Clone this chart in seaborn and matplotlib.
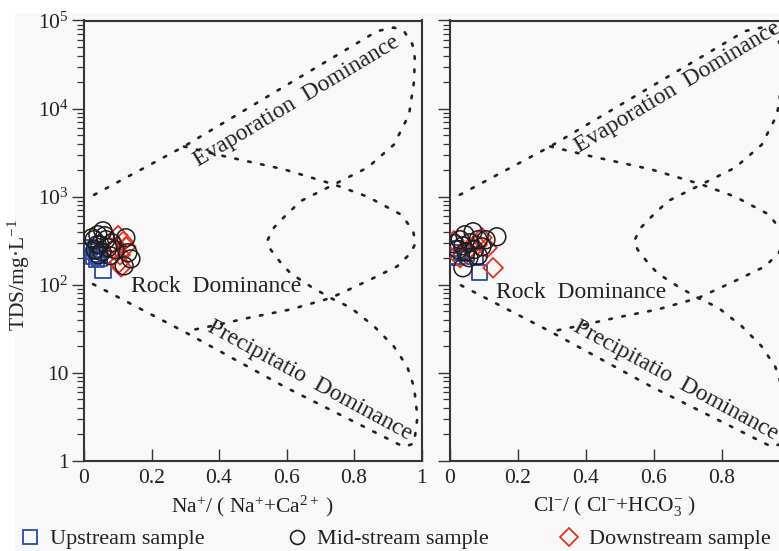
import numpy as np
import pandas as pd
import seaborn as sns
import matplotlib
matplotlib.use("Agg")
import matplotlib.pyplot as plt
from matplotlib.lines import Line2D
from matplotlib.patches import Rectangle

# ---------------- data ----------------
# Left panel: Na+/(Na+ + Ca2+)
up_na = [0.015, 0.024, 0.033, 0.041, 0.027, 0.047, 0.036, 0.056]
up_na_tds = [263, 237, 251, 219, 209, 197, 192, 144]
mid_na = [0.030, 0.041, 0.056, 0.047, 0.065, 0.033, 0.053, 0.071, 0.083, 0.039,
          0.062, 0.077, 0.092, 0.130, 0.119, 0.139, 0.024, 0.044, 0.124]
mid_na_tds = [325, 370, 410, 285, 325, 250, 237, 263, 300, 285,
              360, 214, 250, 231, 164, 197, 342, 219, 342]
down_na = [0.101, 0.098, 0.107, 0.104, 0.116, 0.089, 0.124, 0.110]
down_na_tds = [361, 270, 219, 178, 309, 251, 270, 160]

# Right panel: Cl-/(Cl- + HCO3-)
up_cl = [0.010, 0.022, 0.007, 0.034, 0.075, 0.089, 0.048]
up_cl_tds = [256, 209, 203, 231, 209, 137, 225]
mid_cl = [0.031, 0.045, 0.069, 0.060, 0.084, 0.025, 0.048, 0.072, 0.095, 0.039,
          0.107, 0.057, 0.084, 0.139, 0.039, 0.013]
mid_cl_tds = [325, 370, 400, 300, 325, 251, 237, 251, 270, 277,
              325, 203, 214, 351, 156, 292]
down_cl = [0.013, 0.095, 0.128, 0.110, 0.060, 0.031, 0.081]
down_cl_tds = [316, 342, 156, 263, 263, 203, 285]

# Gibbs boundary curves
outer_x = [0.03, 0.296, 0.593, 0.869, 0.918, 0.948, 0.973, 0.980, 0.978, 0.963,
           0.918, 0.84, 0.741, 0.642, 0.593, 0.563, 0.543, 0.553, 0.583, 0.612,
           0.672, 0.731, 0.79, 0.859, 0.918, 0.958, 0.978, 0.988, 0.978, 0.948,
           0.938, 0.79, 0.593, 0.296, 0.01]
outer_tds = [1050, 3715, 17780, 75860, 83180, 75860, 53700, 38000, 20420, 8511,
             3890, 2138, 1380, 891, 589, 447, 316, 251, 178, 135,
             95.5, 70.8, 55.0, 33.9, 20.0, 11.7, 6.9, 3.16, 1.58, 1.45,
             1.51, 2.92, 7.0, 29.5, 110]
inner_x = [0.296, 0.415, 0.593, 0.74, 0.84, 0.938, 0.975, 0.982, 0.968, 0.928,
           0.849, 0.731, 0.612, 0.494, 0.40, 0.30]
inner_tds = [3715, 2884, 2042, 1380, 1000, 631, 417, 295, 229, 162,
             115, 70.8, 52.5, 42.7, 35.5, 29.5]

yticks = [1, 10, 100, 1000, 10000, 100000]
ytick_labels = ["1", "10", "$10^{2}$", "$10^{3}$", "$10^{4}$", "$10^{5}$"]
xticks = [0, 0.2, 0.4, 0.6, 0.8, 1.0]
xtick_labels_left = ["0", "0.2", "0.4", "0.6", "0.8", "1"]
xtick_labels_right = ["0", "0.2", "0.4", "0.6", "0.8", ""]

C_UP = "#2b4aa6"
C_MID = "#1e1e1e"
C_DOWN = "#e8341f"
C_TXT = "#222222"
C_SPINE = "#3a3333"
BG = "#f8f8f8"
FS = 15.5
FS_ZONE = 17

# ---------------- style ----------------
sns.set_style("ticks")
plt.rcParams["font.family"] = ["Liberation Serif", "DejaVu Serif"]
plt.rcParams["mathtext.fontset"] = "custom"
plt.rcParams["mathtext.rm"] = "Liberation Serif"
plt.rcParams["mathtext.it"] = "Liberation Serif:italic"
plt.rcParams["mathtext.default"] = "regular"

W, H = 779, 551
fig = plt.figure(figsize=(W / 100, H / 100), dpi=100)
fig.patch.set_facecolor("white")
fig.add_artist(Rectangle((15 / W, 0), 1, (H - 13) / H, transform=fig.transFigure,
                         facecolor=BG, edgecolor="none", zorder=-10))

bottom = (H - 461) / H
height = 440.5 / H
ax1 = fig.add_axes([84 / W, bottom, 337.5 / W, height])
ax2 = fig.add_axes([449.6 / W, bottom, 340 / W, height])


def style_axis(ax, show_ylabels, xlabels):
    ax.set_facecolor(BG)
    ax.set_yscale("log")
    ax.set_xlim(0, 1)
    ax.set_ylim(1, 1e5)
    for s in ax.spines.values():
        s.set_color(C_SPINE)
        s.set_linewidth(1.5)
        s.set_visible(True)
    ax.set_xticks(xticks)
    ax.set_xticklabels(xlabels, fontsize=FS, color=C_TXT)
    ax.set_yticks(yticks)
    if show_ylabels:
        ax.set_yticklabels(ytick_labels, fontsize=FS, color=C_TXT)
    else:
        ax.set_yticklabels([])
    ax.yaxis.set_minor_locator(matplotlib.ticker.LogLocator(base=10, subs=np.arange(2, 10)))
    ax.yaxis.set_minor_formatter(matplotlib.ticker.NullFormatter())
    ax.tick_params(axis="x", which="major", direction="in", length=9, width=1.0,
                   color=C_SPINE, pad=6, bottom=True, top=False)
    ax.tick_params(axis="x", which="minor", bottom=False, top=False)
    ax.tick_params(axis="y", which="major", direction="out", length=9, width=1.0,
                   color=C_SPINE, pad=2, left=True, right=False)
    ax.tick_params(axis="y", which="minor", direction="out", length=5, width=0.9,
                   color=C_SPINE, left=True, right=False)


def draw_panel(ax, up_x, up_y, mid_x, mid_y, down_x, down_y):
    dot = (0, (1.0, 4.0))
    sns.lineplot(x=outer_x, y=outer_tds, sort=False, estimator=None, ax=ax,
                 color=C_TXT, linewidth=1.9, linestyle=dot, dash_capstyle="round")
    sns.lineplot(x=inner_x, y=inner_tds, sort=False, estimator=None, ax=ax,
                 color=C_TXT, linewidth=1.9, linestyle=dot, dash_capstyle="round")
    sns.scatterplot(x=up_x, y=up_y, ax=ax, marker="s", s=120, fc="none",
                    ec=C_UP, linewidth=1.3, zorder=3)
    sns.scatterplot(x=mid_x, y=mid_y, ax=ax, marker="o", s=165, fc="none",
                    ec=C_MID, linewidth=1.1, zorder=4)
    sns.scatterplot(x=down_x, y=down_y, ax=ax, marker="D", s=100, fc="none",
                    ec=C_DOWN, linewidth=1.3, zorder=3)


draw_panel(ax1, up_na, up_na_tds, mid_na, mid_na_tds, down_na, down_na_tds)
draw_panel(ax2, up_cl, up_cl_tds, mid_cl, mid_cl_tds, down_cl, down_cl_tds)
style_axis(ax1, True, xtick_labels_left)
style_axis(ax2, False, xtick_labels_right)

# zone labels
ax1.text(0.629, 12100, "Evaporation  Dominance", rotation=31, rotation_mode="anchor",
         ha="center", va="center", fontsize=FS_ZONE, color=C_TXT)
ax2.text(0.672, 17500, "Evaporation  Dominance", rotation=31, rotation_mode="anchor",
         ha="center", va="center", fontsize=FS_ZONE, color=C_TXT)
ax1.text(0.138, 81.8, "Rock  Dominance", ha="left", va="baseline", fontsize=FS_ZONE, color=C_TXT)
ax2.text(0.136, 70.5, "Rock  Dominance", ha="left", va="baseline", fontsize=FS_ZONE, color=C_TXT)
ax1.text(0.669, 8.3, "Precipitatio  Dominance", rotation=-28.5, rotation_mode="anchor",
         ha="center", va="center", fontsize=FS_ZONE, color=C_TXT)
ax2.text(0.665, 8.3, "Precipitatio  Dominance", rotation=-28.5, rotation_mode="anchor",
         ha="center", va="center", fontsize=FS_ZONE, color=C_TXT)

# axis labels
ax1.set_xlabel("Na$^{+}$/ ( Na$^{+}$+Ca$^{2+}$ )", fontsize=FS, color=C_TXT)
ax2.set_xlabel("Cl$^{-}$/ ( Cl$^{-}$+HCO$_{3}^{-}$ )", fontsize=FS, color=C_TXT)
ax1.xaxis.set_label_coords(0.5, -0.075)
ax2.xaxis.set_label_coords((615 - 449.6) / 340, -0.075)
ax1.set_ylabel("TDS/mg·L$^{-1}$", fontsize=FS, color=C_TXT)
ax1.yaxis.set_label_coords((32 - 84) / 337.5, (461 - 275) / 440.5)
ax2.set_ylabel("")

# legend (three separate entries placed like the original)
entries = [
    (Line2D([], [], linestyle="none", marker="s", markersize=10, mfc="none",
            mec=C_UP, mew=1.3), "Upstream sample", 21.4),
    (Line2D([], [], linestyle="none", marker="o", markersize=10, mfc="none",
            mec=C_MID, mew=1.2), "Mid-stream sample", 288.4),
    (Line2D([], [], linestyle="none", marker="D", markersize=9, mfc="none",
            mec=C_DOWN, mew=1.3), "Downstream sample", 560.4),
]
for handle, label, xpx in entries:
    fig.legend([handle], [label], loc="center left",
               bbox_to_anchor=(xpx / W, (H - 539) / H), frameon=False,
               fontsize=16, handlelength=0.8, handletextpad=0.5,
               borderpad=0, borderaxespad=0, labelcolor=C_TXT)

fig.savefig("out.png", dpi=100, facecolor=fig.get_facecolor())
